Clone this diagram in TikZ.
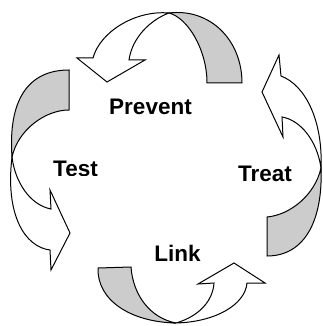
\documentclass[tikz,border=0pt]{standalone}
\usepackage{fontspec}
\setmainfont{Liberation Sans}
\definecolor{backgray}{RGB}{204,204,204}

\begin{document}
\begin{tikzpicture}[
x=1pt, y=-1pt, line width=1pt,
back/.style = {draw=black, fill=backgray},
face/.style = {draw=black, fill=white},
word/.style = {font=\bfseries\fontsize{22.5}{27}\selectfont, anchor=base, inner sep=0pt}
]
\useasboundingbox (0,0) rectangle (323,326);

% prevent arrow
\draw[back] (207,83) -- (242,83) .. controls (242,40) and (210,8) .. (169,13)
   .. controls (188,18) and (207,50) .. (207,83) -- cycle;
\draw[face] (169,13) .. controls (135,10) and (100,32) .. (93,58) -- (77,58)
   -- (107,82) -- (145,60) -- (129,60) .. controls (132,38) and (150,20) .. (169,13) -- cycle;

% test arrow
\draw[back] (69,70) -- (69,110) .. controls (45,110) and (18,130) .. (12,157)
   .. controls (8,100) and (28,70) .. (69,70) -- cycle;
\draw[face] (12,157) .. controls (5,215) and (25,247) .. (50,250) -- (51,270)
   -- (70,233) -- (50,190) -- (51,209) .. controls (30,205) and (15,182) .. (12,157) -- cycle;

% treat arrow
\draw[back] (267,217) -- (267,256) .. controls (305,256) and (323,220) .. (321,168)
   .. controls (315,195) and (290,215) .. (267,217) -- cycle;
\draw[face] (321,168) .. controls (323,120) and (305,85) .. (281,76) -- (279,55)
   -- (262,92) -- (283,137) -- (282,117) .. controls (300,120) and (317,140) .. (321,168) -- cycle;

% link arrow
\draw[back] (98,268) -- (131,267) .. controls (133,295) and (150,318) .. (176,323)
   .. controls (130,322) and (97,300) .. (98,268) -- cycle;
\draw[face] (176,323) .. controls (215,322) and (245,305) .. (247,283) -- (265,283)
   -- (234,263) -- (198,284) -- (214,283) .. controls (213,300) and (200,316) .. (176,323) -- cycle;

% labels
\node[word] (prevent) at (150.5,114) {Prevent};
\node[word] (treat) at (265,181) {Treat};
\node[word] (link) at (177.5,261) {Link};
\begin{scope}
\clip (40,150) rectangle (110,175);
\node[word] (test) at (75.5,176) {Test};
\end{scope}

\end{tikzpicture}
\end{document}
